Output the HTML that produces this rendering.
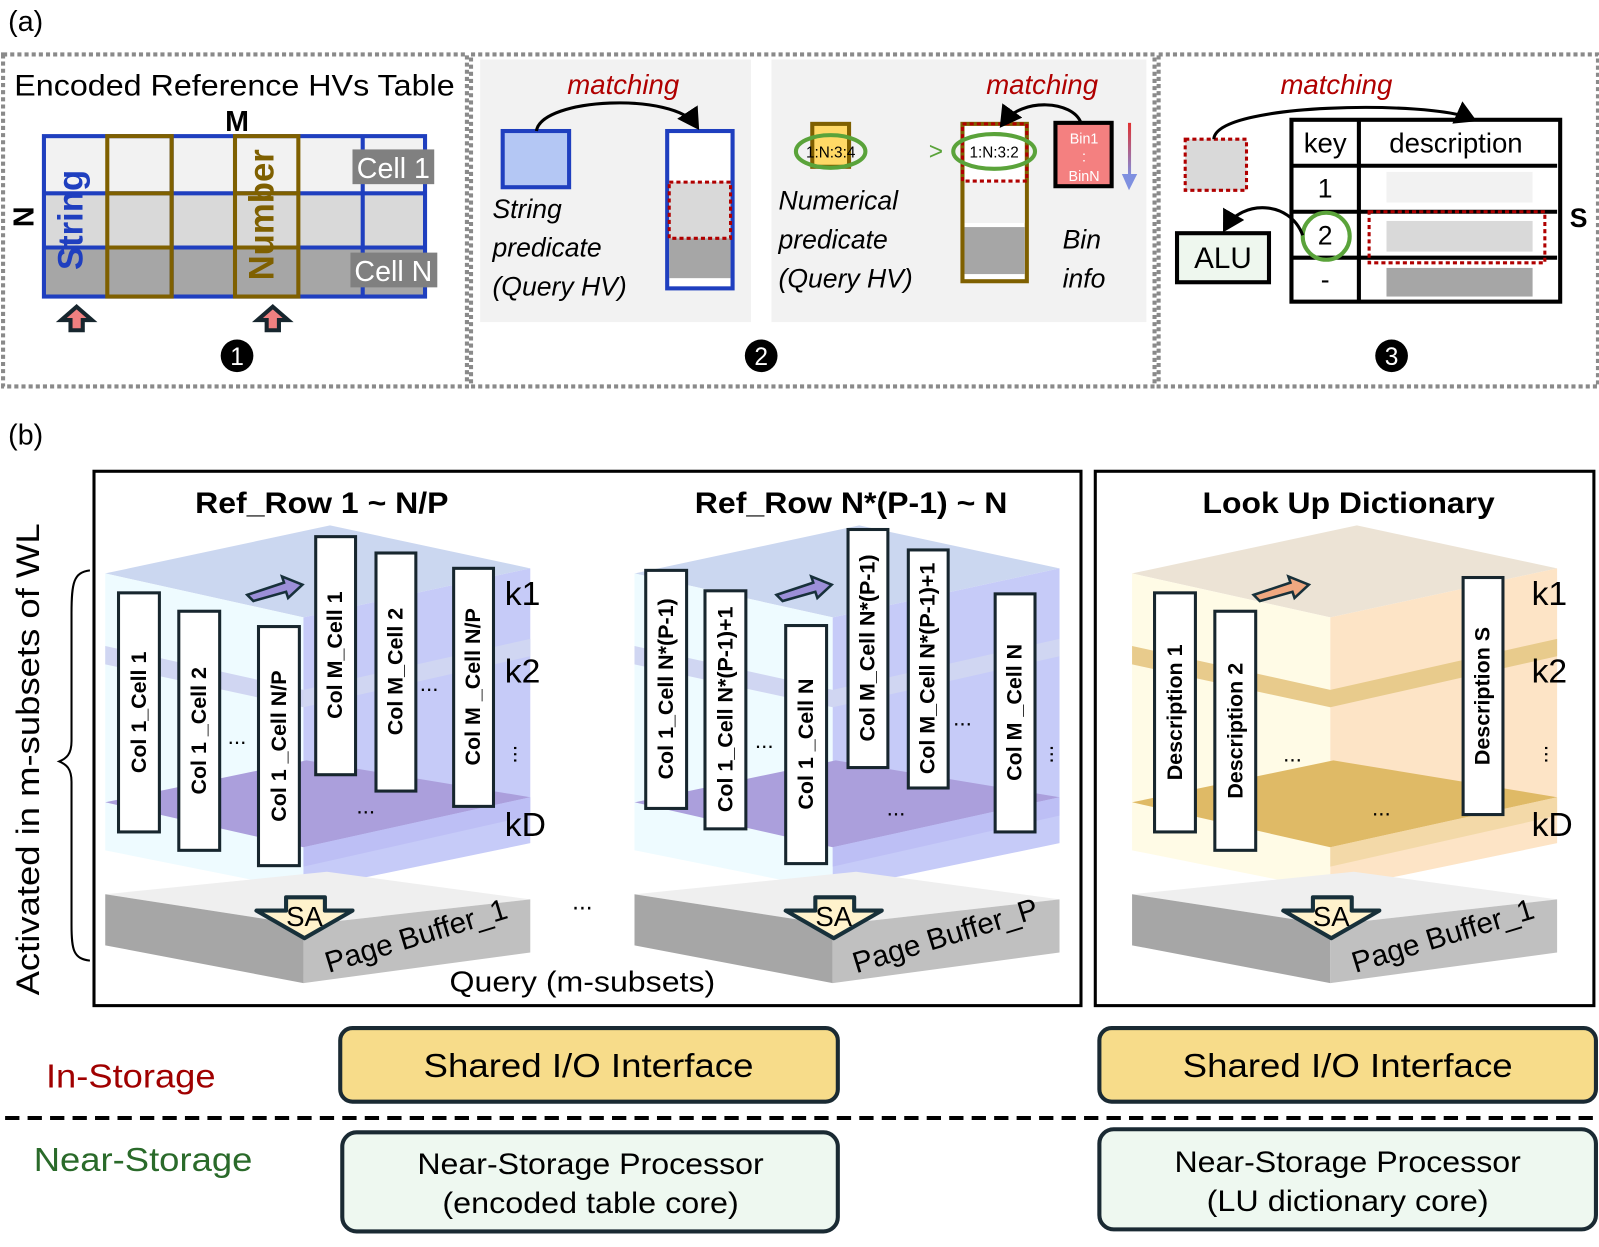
<!DOCTYPE html>
<html><head><meta charset="utf-8"><style>
html,body{margin:0;padding:0;background:#fff}
svg{display:block}
text{font-family:"Liberation Sans",sans-serif}
.it{font-family:"Liberation Sans",sans-serif;font-style:italic}
.col{fill:#fff;stroke:#17262e;stroke-width:3}
.ct{font-weight:bold;font-size:21px;text-anchor:middle;dominant-baseline:central}
</style></head><body>
<svg width="1599" height="1247" viewBox="0 0 1565 1220" xmlns="http://www.w3.org/2000/svg">
<defs>
<marker id="ah" markerWidth="8" markerHeight="8" refX="5" refY="4" orient="auto" markerUnits="strokeWidth"><path d="M0,0 L7,4 L0,8 Z" fill="#000"/></marker>
<linearGradient id="rb" x1="0" y1="0" x2="0" y2="1"><stop offset="0" stop-color="#e03030"/><stop offset="1" stop-color="#7f90e0"/></linearGradient>
</defs>
<!-- (a) -->
<text x="8" y="30" font-size="28">(a)</text>
<g fill="none" stroke="#8a8a8a" stroke-width="4" stroke-dasharray="4,3">
<rect x="3" y="53" width="454" height="325"/>
<rect x="461" y="53" width="669" height="325"/>
<rect x="1134" y="53" width="430" height="325"/>
</g>
<text x="14" y="93" font-size="29" textLength="431" lengthAdjust="spacingAndGlyphs">Encoded Reference HVs Table</text>
<text x="232" y="128" font-size="28" font-weight="bold" text-anchor="middle">M</text>
<text transform="translate(22,212) rotate(90)" font-size="28" font-weight="bold" text-anchor="middle" dominant-baseline="central">N</text>
<rect x="43" y="133" width="373" height="56" fill="#f2f2f2"/>
<rect x="43" y="189" width="373" height="53" fill="#d9d9d9"/>
<rect x="43" y="242" width="373" height="48" fill="#a6a6a6"/>
<g stroke="#1f3fbf" stroke-width="4" fill="none">
<rect x="43" y="133" width="373" height="157"/>
<line x1="43" y1="189" x2="416" y2="189"/><line x1="43" y1="242" x2="416" y2="242"/>
<line x1="168" y1="133" x2="168" y2="290"/><line x1="355" y1="133" x2="355" y2="290"/>
</g>
<g stroke="#7f6000" stroke-width="4" fill="none">
<rect x="105" y="133" width="63" height="157"/><rect x="230" y="133" width="62" height="157"/>
<line x1="105" y1="189" x2="168" y2="189"/><line x1="105" y1="242" x2="168" y2="242"/>
<line x1="230" y1="189" x2="292" y2="189"/><line x1="230" y1="242" x2="292" y2="242"/>
</g>
<text transform="translate(70,215) rotate(-90)" font-size="34" font-weight="bold" fill="#1f3fbf" text-anchor="middle" dominant-baseline="central">String</text>
<text transform="translate(257,210) rotate(-90)" font-size="34" font-weight="bold" fill="#7f6000" text-anchor="middle" dominant-baseline="central">Number</text>
<rect x="345" y="146" width="80" height="34" fill="#808080"/><text x="385" y="174" font-size="28" fill="#fff" text-anchor="middle">Cell 1</text>
<rect x="343" y="247" width="85" height="34" fill="#808080"/><text x="385" y="275" font-size="28" fill="#fff" text-anchor="middle">Cell N</text>
<g fill="#f08080" stroke="#17262e" stroke-width="4">
<polygon points="75,300 90,313 81,313 81,323 69,323 69,313 60,313"/>
<polygon points="267,300 282,313 273,313 273,323 261,323 261,313 252,313"/>
</g>
<circle cx="232" cy="348" r="16" fill="#000"/><text x="232" y="357" font-size="24" fill="#fff" text-anchor="middle">1</text>
<circle cx="745" cy="348" r="16" fill="#000"/><text x="745" y="357" font-size="24" fill="#fff" text-anchor="middle">2</text>
<circle cx="1362" cy="348" r="16" fill="#000"/><text x="1362" y="357" font-size="24" fill="#fff" text-anchor="middle">3</text>
<!-- panel 2 -->
<rect x="470" y="58" width="265" height="257" fill="#f2f2f2"/>
<rect x="755" y="58" width="367" height="257" fill="#f2f2f2"/>
<text x="610" y="92" class="it" font-size="27" fill="#b00000" text-anchor="middle">matching</text>
<text x="1020" y="92" class="it" font-size="27" fill="#b00000" text-anchor="middle">matching</text>
<text x="1308" y="92" class="it" font-size="27" fill="#b00000" text-anchor="middle">matching</text>
<rect x="492" y="128" width="65" height="55" fill="#b4c7f4" stroke="#1f3fbf" stroke-width="4"/>
<rect x="653" y="128" width="64" height="154" fill="#fff" stroke="#1f3fbf" stroke-width="4"/>
<rect x="655" y="178" width="60" height="55" fill="#d9d9d9"/>
<rect x="655" y="233" width="60" height="39" fill="#a6a6a6"/>
<rect x="655" y="178" width="60" height="55" fill="none" stroke="#b00000" stroke-width="3" stroke-dasharray="4,3"/>
<path d="M525,128 C530,95 660,90 681,122" fill="none" stroke="#000" stroke-width="3" marker-end="url(#ah)"/>
<g class="it" font-size="26"><text x="482" y="213">String</text><text x="482" y="251">predicate</text><text x="482" y="289">(Query HV)</text>
<text x="762" y="205">Numerical</text><text x="762" y="243">predicate</text><text x="762" y="281">(Query HV)</text>
<text x="1040" y="243">Bin</text><text x="1040" y="281">info</text></g>
<rect x="795" y="121" width="36" height="42" fill="#ffd966" stroke="#7f6000" stroke-width="4"/>
<text x="813" y="154" font-size="15" text-anchor="middle">1:N:3:4</text>
<ellipse cx="813" cy="148" rx="34" ry="16" fill="none" stroke="#5aa33a" stroke-width="4"/>
<text x="916" y="156" font-size="24" fill="#5aa33a" text-anchor="middle">&gt;</text>
<rect x="942" y="121" width="63" height="154" fill="#fff" stroke="#7f6000" stroke-width="4"/>
<rect x="944" y="222" width="59" height="46" fill="#a6a6a6"/>
<rect x="944" y="178" width="59" height="40" fill="#f2f2f2"/>
<rect x="942" y="121" width="63" height="56" fill="none" stroke="#b00000" stroke-width="3" stroke-dasharray="4,3"/>
<text x="973" y="154" font-size="15" text-anchor="middle">1:N:3:2</text>
<ellipse cx="973" cy="148" rx="40" ry="17" fill="none" stroke="#5aa33a" stroke-width="4"/>
<path d="M1058,120 C1050,98 1000,95 982,120" fill="none" stroke="#000" stroke-width="3" marker-end="url(#ah)"/>
<rect x="1033" y="120" width="55" height="62" fill="#f48080" stroke="#000" stroke-width="4"/>
<text x="1061" y="140" font-size="14" fill="#fff" text-anchor="middle">Bin1</text>
<text x="1061" y="158" font-size="14" fill="#fff" text-anchor="middle">:</text>
<text x="1061" y="177" font-size="14" fill="#fff" text-anchor="middle">BinN</text>
<rect x="1104" y="120" width="3" height="52" fill="url(#rb)"/><polygon points="1098,170 1113,170 1105,186" fill="#7f90e0"/>
<!-- panel 3 -->
<rect x="1160" y="136" width="60" height="50" fill="#d9d9d9" stroke="#b00000" stroke-width="3" stroke-dasharray="4,3"/>
<path d="M1188,136 C1190,100 1400,98 1440,116" fill="none" stroke="#000" stroke-width="3" marker-end="url(#ah)"/>
<rect x="1357" y="168" width="143" height="30" fill="#f2f2f2"/>
<rect x="1357" y="216" width="143" height="30" fill="#d9d9d9"/>
<rect x="1357" y="262" width="143" height="28" fill="#a6a6a6"/>
<rect x="1264" y="117" width="263" height="178" fill="none" stroke="#000" stroke-width="4"/>
<g stroke="#000" stroke-width="4"><line x1="1330" y1="117" x2="1330" y2="295"/><line x1="1264" y1="162" x2="1524" y2="162"/><line x1="1264" y1="207" x2="1524" y2="207"/><line x1="1264" y1="252" x2="1524" y2="252"/></g>
<rect x="1340" y="207" width="172" height="50" fill="none" stroke="#b00000" stroke-width="3" stroke-dasharray="4,3"/>
<text x="1297" y="149" font-size="27" text-anchor="middle">key</text>
<text x="1425" y="149" font-size="27" text-anchor="middle">description</text>
<text x="1297" y="193" font-size="26" text-anchor="middle">1</text>
<text x="1297" y="239" font-size="26" text-anchor="middle">2</text>
<text x="1297" y="282" font-size="26" text-anchor="middle">-</text>
<circle cx="1298" cy="231" r="23" fill="none" stroke="#5aa33a" stroke-width="4"/>
<text x="1545" y="222" font-size="26" font-weight="bold" text-anchor="middle">S</text>
<rect x="1152" y="228" width="90" height="48" fill="#eef7ee" stroke="#000" stroke-width="4"/>
<text x="1197" y="262" font-size="29" text-anchor="middle">ALU</text>
<path d="M1275,230 C1262,195 1215,196 1200,222" fill="none" stroke="#000" stroke-width="3" marker-end="url(#ah)"/>

<!-- (b) -->
<text x="8" y="435" font-size="28">(b)</text>
<rect x="92" y="461" width="966" height="523" fill="none" stroke="#000" stroke-width="3"/>
<rect x="1072" y="461" width="488" height="523" fill="none" stroke="#000" stroke-width="3"/>
<text x="315" y="502" font-size="29" font-weight="bold" text-anchor="middle" textLength="248" lengthAdjust="spacingAndGlyphs">Ref_Row 1 ~ N/P</text>
<text x="833" y="502" font-size="29" font-weight="bold" text-anchor="middle" textLength="306" lengthAdjust="spacingAndGlyphs">Ref_Row N*(P-1) ~ N</text>
<text x="1320" y="502" font-size="29" font-weight="bold" text-anchor="middle" textLength="286" lengthAdjust="spacingAndGlyphs">Look Up Dictionary</text>
<text transform="translate(38,743) rotate(-90)" font-size="32" text-anchor="middle" textLength="462" lengthAdjust="spacingAndGlyphs">Activated in m-subsets of WL</text>
<path d="M88,558 C72,560 70,570 70,600 L70,725 C70,738 65,742 58,745 C65,748 70,752 70,765 L70,905 C70,930 72,938 88,940" fill="none" stroke="#000" stroke-width="2"/>

<g>
<polygon points="103,561 323,514 519,556 297,604" fill="#cbd7f0"/>
<polygon points="103,561 297,604 297,871 103,832" fill="#eefbff"/>
<polygon points="297,604 519,556 519,825 297,871" fill="#c6cbf8"/>
<polygon points="103,632 297,675 519,625 519,642 297,692 103,650" fill="#d0d6f2"/>
<polygon points="103,785 300,744 519,780 297,829" fill="#ab9fdc"/>
<polygon points="297,829 519,780 519,798 297,848" fill="#bdbff5"/>
</g>
<g transform="translate(518,0)">
<polygon points="103,561 323,514 519,556 297,604" fill="#cbd7f0"/>
<polygon points="103,561 297,604 297,871 103,832" fill="#eefbff"/>
<polygon points="297,604 519,556 519,825 297,871" fill="#c6cbf8"/>
<polygon points="103,632 297,675 519,625 519,642 297,692 103,650" fill="#d0d6f2"/>
<polygon points="103,785 300,744 519,780 297,829" fill="#ab9fdc"/>
<polygon points="297,829 519,780 519,798 297,848" fill="#bdbff5"/>
</g>
<g transform="translate(1005,0)">
<polygon points="103,561 323,514 519,556 297,604" fill="#ece3d5"/>
<polygon points="103,561 297,604 297,871 103,832" fill="#fffbe6"/>
<polygon points="297,604 519,556 519,825 297,871" fill="#fde4c6"/>
<polygon points="103,632 297,675 519,625 519,642 297,692 103,650" fill="#e8cb8c"/>
<polygon points="103,785 300,744 519,780 297,829" fill="#dfba66"/>
<polygon points="297,829 519,780 519,798 297,848" fill="#f3d9a8"/>
</g>
<g>
<polygon points="103,875 320,853 519,880 297,905" fill="#efefef"/>
<polygon points="103,875 297,905 297,962 103,925" fill="#a6a6a6"/>
<polygon points="297,905 519,880 519,932 297,962" fill="#c0c0c0"/>
<polygon points="280,878 318,878 318,891 345,891 298,918 251,891 280,891" fill="#fff2cc" stroke="#17303a" stroke-width="4" stroke-linejoin="round"/>
<text x="298" y="906" font-size="27" text-anchor="middle">SA</text>
</g>
<g transform="translate(518,0)">
<polygon points="103,875 320,853 519,880 297,905" fill="#efefef"/>
<polygon points="103,875 297,905 297,962 103,925" fill="#a6a6a6"/>
<polygon points="297,905 519,880 519,932 297,962" fill="#c0c0c0"/>
<polygon points="280,878 318,878 318,891 345,891 298,918 251,891 280,891" fill="#fff2cc" stroke="#17303a" stroke-width="4" stroke-linejoin="round"/>
<text x="298" y="906" font-size="27" text-anchor="middle">SA</text>
</g>
<g transform="translate(1005,0)">
<polygon points="103,875 320,853 519,880 297,905" fill="#efefef"/>
<polygon points="103,875 297,905 297,962 103,925" fill="#a6a6a6"/>
<polygon points="297,905 519,880 519,932 297,962" fill="#c0c0c0"/>
<polygon points="280,878 318,878 318,891 345,891 298,918 251,891 280,891" fill="#fff2cc" stroke="#17303a" stroke-width="4" stroke-linejoin="round"/>
<text x="298" y="906" font-size="27" text-anchor="middle">SA</text>
</g>
<text transform="translate(410,925) rotate(-17)" font-size="29" text-anchor="middle">Page Buffer_1</text>
<text transform="translate(928,925) rotate(-17)" font-size="29" text-anchor="middle">Page Buffer_P</text>
<text transform="translate(1415,925) rotate(-17)" font-size="29" text-anchor="middle">Page Buffer_1</text>
<text x="570" y="970" font-size="28" text-anchor="middle" textLength="260" lengthAdjust="spacingAndGlyphs">Query (m-subsets)</text>
<text x="570" y="890" font-size="24" text-anchor="middle">...</text>
<polygon points="242,582 278,570 276,564 296,572 282,585 280,579 248,588" fill="#9c8fd8" stroke="#17303a" stroke-width="2.5"/>
<polygon points="760,582 796,570 794,564 814,572 800,585 798,579 766,588" fill="#9c8fd8" stroke="#17303a" stroke-width="2.5"/>
<polygon points="1227,582 1263,570 1261,564 1281,572 1267,585 1265,579 1233,588" fill="#f0a880" stroke="#17303a" stroke-width="2.5"/>
<g font-size="33"><text x="494" y="592">k1</text><text x="494" y="668">k2</text><text x="494" y="818">kD</text>
<text x="1499" y="592">k1</text><text x="1499" y="668">k2</text><text x="1499" y="818">kD</text></g>
<g font-size="22" text-anchor="middle"><text transform="translate(503,738) rotate(90)">...</text><text transform="translate(1028,738) rotate(90)">...</text><text transform="translate(1512,738) rotate(90)">...</text>
<text x="232" y="728">...</text><text x="420" y="676">...</text><text x="358" y="796">...</text>
<text x="748" y="732">...</text><text x="942" y="710">...</text><text x="877" y="798">...</text>
<text x="1265" y="745">...</text><text x="1352" y="798">...</text></g>
<rect class="col" x="116" y="580" width="40" height="234"/><text class="ct" transform="translate(136,697) rotate(-90)">Col 1_Cell 1</text>
<rect class="col" x="175" y="598" width="40" height="234"/><text class="ct" transform="translate(195,715) rotate(-90)">Col 1 _Cell 2</text>
<rect class="col" x="253" y="613" width="40" height="234"/><text class="ct" transform="translate(273,730) rotate(-90)">Col 1 _Cell N/P</text>
<rect class="col" x="309" y="525" width="39" height="233"/><text class="ct" transform="translate(328,641) rotate(-90)">Col M_Cell 1</text>
<rect class="col" x="368" y="541" width="39" height="233"/><text class="ct" transform="translate(387,657) rotate(-90)">Col M_Cell 2</text>
<rect class="col" x="444" y="556" width="39" height="233"/><text class="ct" transform="translate(463,672) rotate(-90)">Col M _Cell N/P</text>
<rect class="col" x="632" y="558" width="40" height="233"/><text class="ct" transform="translate(652,674) rotate(-90)">Col 1_Cell N*(P-1)</text>
<rect class="col" x="690" y="578" width="40" height="233"/><text class="ct" transform="translate(710,694) rotate(-90)">Col 1_Cell N*(P-1)+1</text>
<rect class="col" x="769" y="612" width="40" height="233"/><text class="ct" transform="translate(789,728) rotate(-90)">Col 1 _Cell N</text>
<rect class="col" x="830" y="518" width="39" height="233"/><text class="ct" transform="translate(849,634) rotate(-90)">Col M_Cell N*(P-1)</text>
<rect class="col" x="889" y="538" width="39" height="233"/><text class="ct" transform="translate(908,654) rotate(-90)">Col M_Cell N*(P-1)+1</text>
<rect class="col" x="974" y="581" width="39" height="233"/><text class="ct" transform="translate(993,697) rotate(-90)">Col M _Cell N</text>
<rect class="col" x="1130" y="580" width="40" height="234"/><text class="ct" transform="translate(1150,697) rotate(-90)">Description 1</text>
<rect class="col" x="1189" y="598" width="40" height="234"/><text class="ct" transform="translate(1209,715) rotate(-90)">Description 2</text>
<rect class="col" x="1432" y="565" width="39" height="232"/><text class="ct" transform="translate(1451,681) rotate(-90)">Description S</text>

<rect x="333" y="1006" width="487" height="72" rx="12" fill="#f7dc8a" stroke="#1a2a33" stroke-width="4"/>
<rect x="1076" y="1006" width="486" height="72" rx="12" fill="#f7dc8a" stroke="#1a2a33" stroke-width="4"/>
<text x="576" y="1054" font-size="33" text-anchor="middle" textLength="323" lengthAdjust="spacingAndGlyphs">Shared I/O Interface</text>
<text x="1319" y="1054" font-size="33" text-anchor="middle" textLength="323" lengthAdjust="spacingAndGlyphs">Shared I/O Interface</text>
<text x="128" y="1064" font-size="33" fill="#a00000" text-anchor="middle" textLength="166" lengthAdjust="spacingAndGlyphs">In-Storage</text>
<line x1="5" y1="1094" x2="1560" y2="1094" stroke="#000" stroke-width="4" stroke-dasharray="14,8"/>
<text x="140" y="1146" font-size="33" fill="#2a6a2a" text-anchor="middle" textLength="214" lengthAdjust="spacingAndGlyphs">Near-Storage</text>
<rect x="335" y="1108" width="485" height="97" rx="14" fill="#eef8f0" stroke="#1a2a33" stroke-width="4"/>
<rect x="1076" y="1105" width="486" height="98" rx="14" fill="#eef8f0" stroke="#1a2a33" stroke-width="4"/>
<text x="578" y="1149" font-size="29" text-anchor="middle" textLength="339" lengthAdjust="spacingAndGlyphs">Near-Storage Processor</text>
<text x="578" y="1187" font-size="29" text-anchor="middle" textLength="290" lengthAdjust="spacingAndGlyphs">(encoded table core)</text>
<text x="1319" y="1147" font-size="29" text-anchor="middle" textLength="339" lengthAdjust="spacingAndGlyphs">Near-Storage Processor</text>
<text x="1319" y="1185" font-size="29" text-anchor="middle" textLength="276" lengthAdjust="spacingAndGlyphs">(LU dictionary core)</text>
</svg>
</body></html>
